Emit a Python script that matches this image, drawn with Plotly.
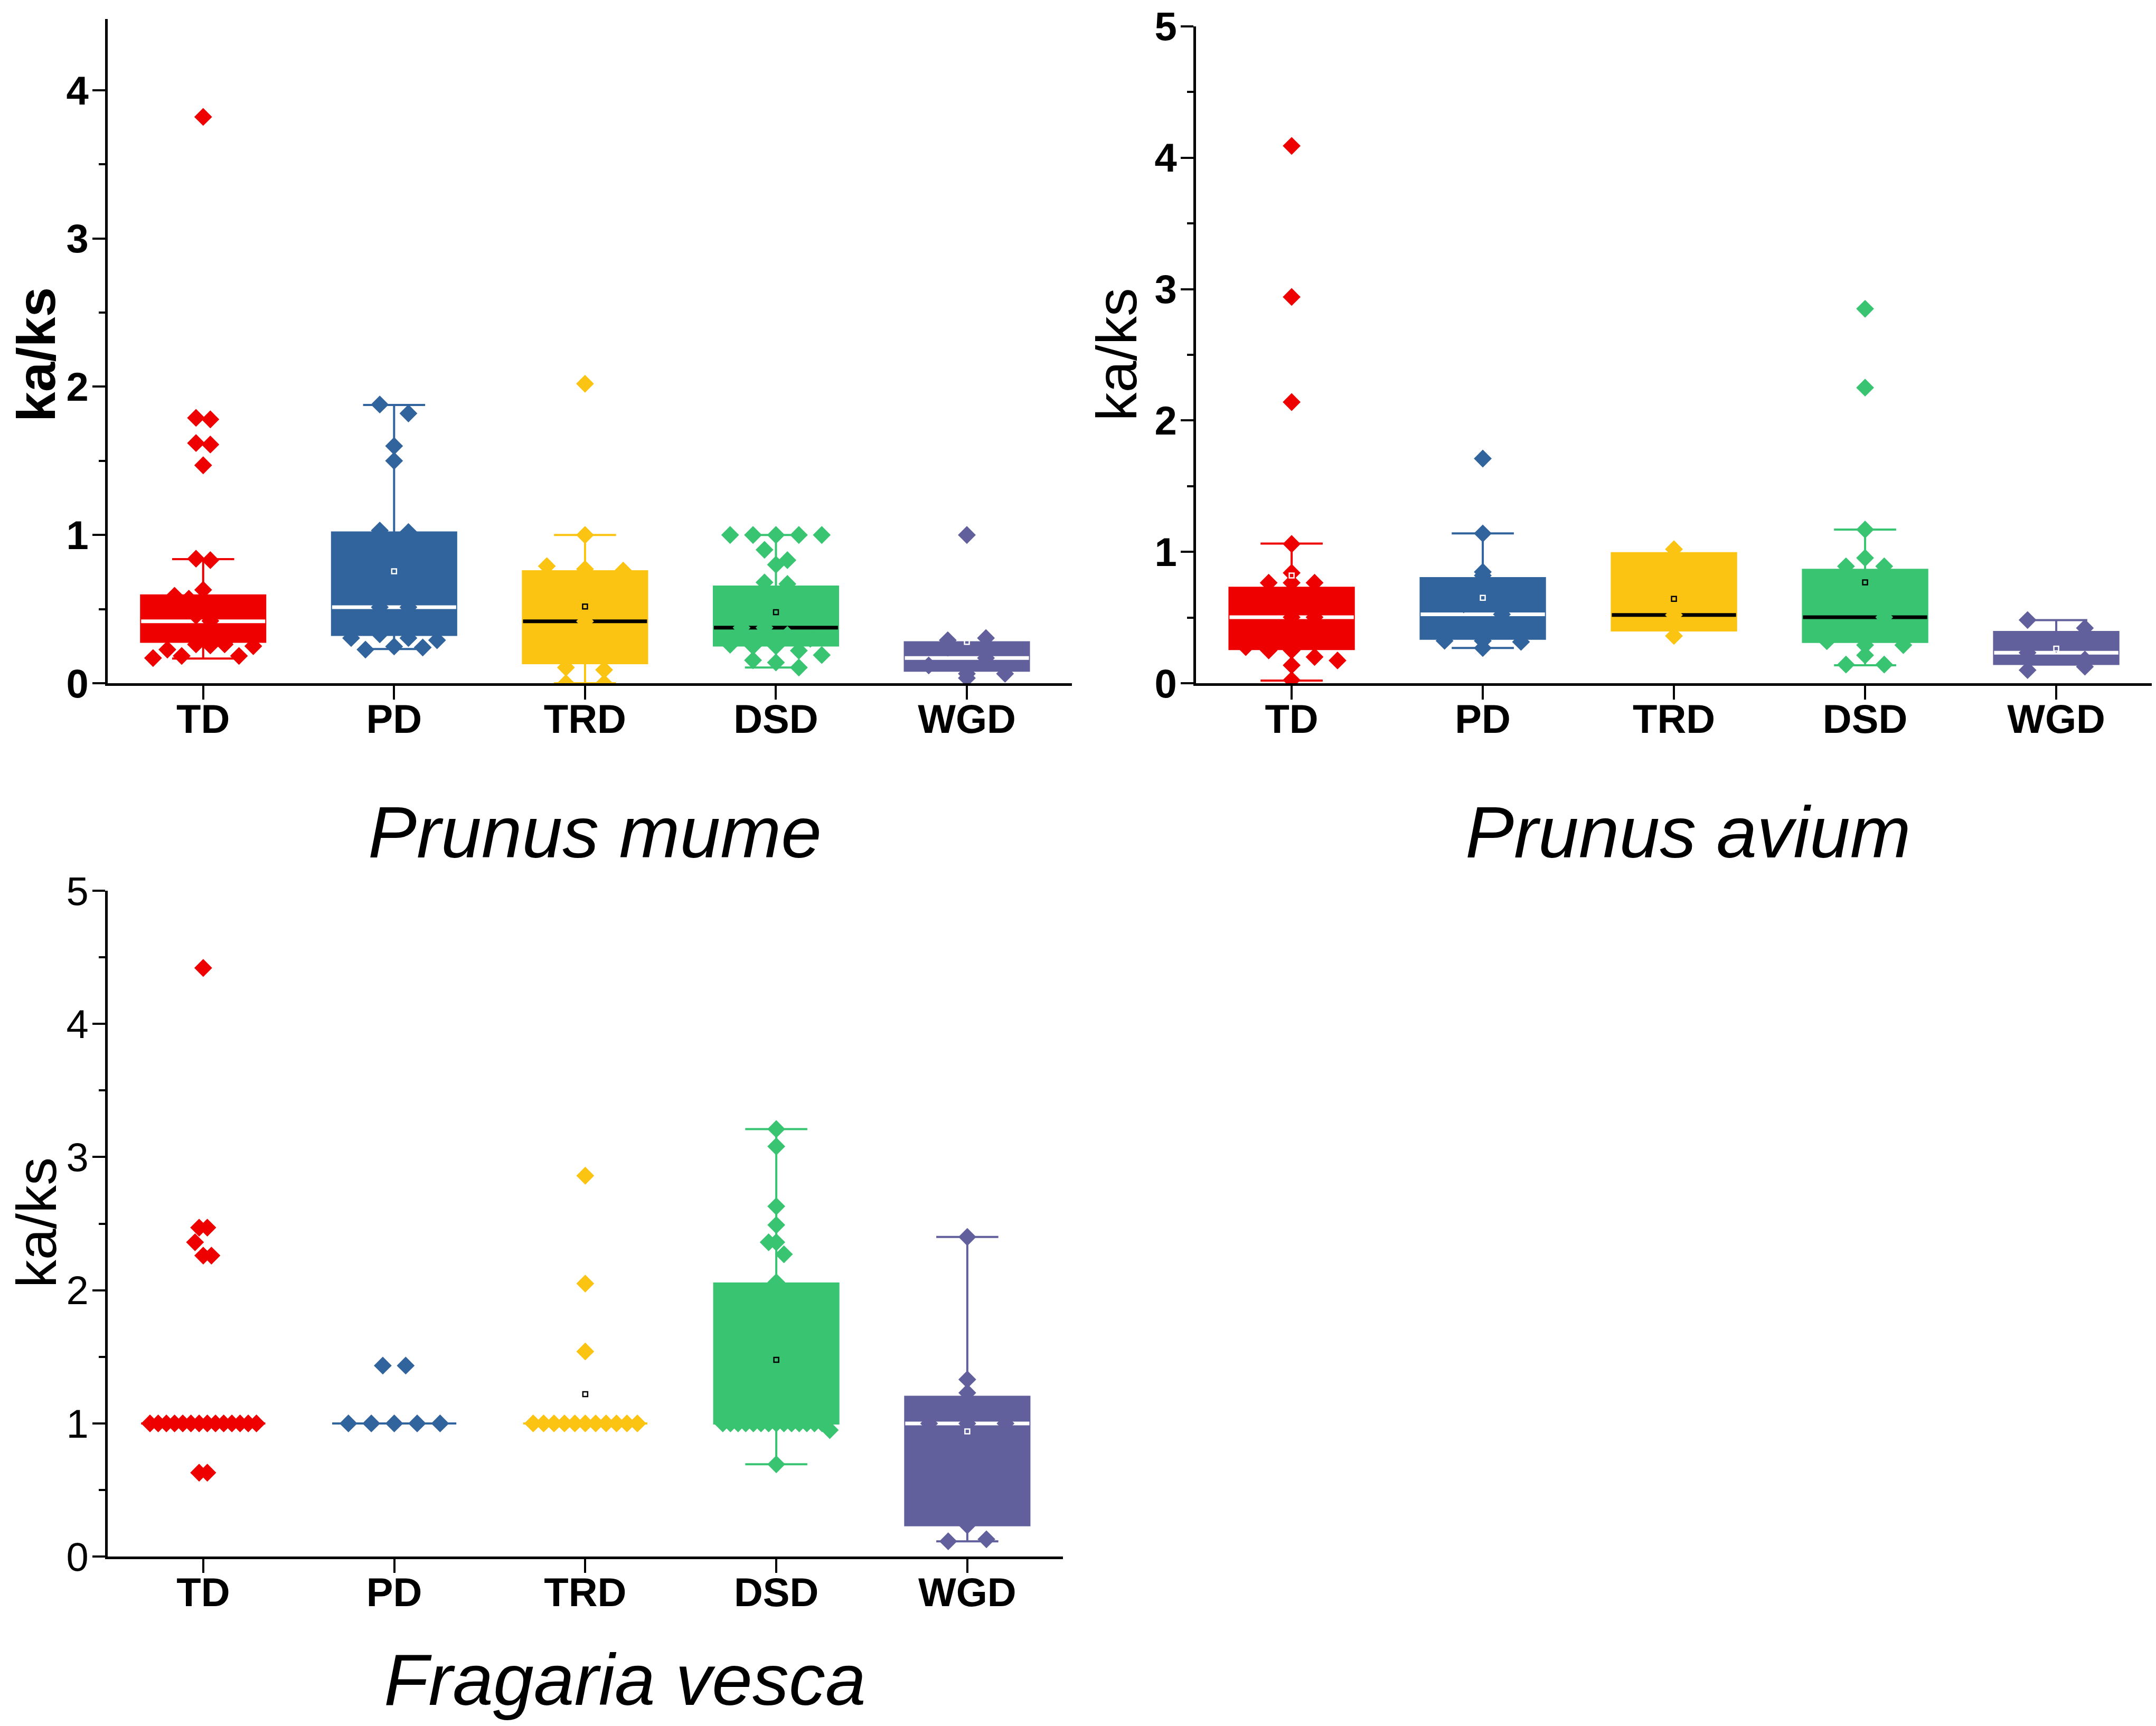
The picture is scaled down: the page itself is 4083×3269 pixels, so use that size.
import plotly.graph_objects as go

categories = ["TD", "PD", "TRD", "DSD", "WGD"]
box_colors = ["#EE0000", "#31639C", "#FBC412", "#39C471", "#62609C"]

# Prunus mume: ka/ks values per duplication type
mume_td = [3.82, 1.79, 1.78, 1.62, 1.61, 1.47, 0.84, 0.83, 0.63, 0.59, 0.57, 0.55,
           0.52, 0.50, 0.456, 0.42, 0.34, 0.32, 0.30, 0.276,
           0.17, 0.227, 0.184, 0.262, 0.255, 0.262, 0.184, 0.25]
mume_pd = [1.88, 1.82, 1.60, 1.50, 1.03, 1.02, 0.92, 0.80, 0.66, 0.513, 0.513,
           0.40, 0.305, 0.33, 0.305, 0.29, 0.227, 0.248, 0.241]
mume_trd = [2.02, 1.00, 0.79, 0.77, 0.76, 0.65, 0.55, 0.418, 0.30, 0.22,
            0.106, 0.09, 0.0, 0.0]
mume_dsd = [1.0, 1.0, 1.0, 1.0, 1.0, 0.90, 0.83, 0.80, 0.68, 0.67, 0.55, 0.47,
            0.375, 0.375, 0.326, 0.30, 0.26, 0.25, 0.25, 0.22, 0.19, 0.155, 0.14, 0.106]
mume_wgd = [1.0, 0.29, 0.305, 0.24, 0.17, 0.12, 0.064, 0.035, 0.064]
mume_q1 = [0.28, 0.326, 0.135, 0.255, 0.085]
mume_median = [0.418, 0.513, 0.418, 0.375, 0.17]
mume_q3 = [0.592, 1.017, 0.755, 0.652, 0.276]
mume_low = [0.167, 0.231, 0.0, 0.106, 0.085]
mume_high = [0.837, 1.877, 1.0, 1.0, 0.276]
mume_mean = [None, 0.755, 0.517, 0.479, 0.279]

# Prunus avium
avium_td = [4.09, 2.94, 2.14, 1.06, 0.84, 0.765, 0.765, 0.765, 0.68, 0.60, 0.502,
            0.502, 0.40, 0.33, 0.275, 0.25, 0.25, 0.20, 0.137, 0.173, 0.024]
avium_pd = [1.71, 1.14, 0.847, 0.82, 0.70, 0.60, 0.525, 0.42, 0.323, 0.323, 0.268, 0.315]
avium_trd = [1.02, 0.75, 0.52, 0.36]
avium_dsd = [2.85, 2.25, 1.17, 0.954, 0.89, 0.89, 0.72, 0.60, 0.502, 0.40, 0.32,
             0.29, 0.29, 0.213, 0.142, 0.142]
avium_wgd = [0.481, 0.42, 0.30, 0.232, 0.18, 0.10, 0.126]
avium_q1 = [0.26, 0.339, 0.402, 0.315, 0.147]
avium_median = [0.502, 0.525, 0.52, 0.502, 0.232]
avium_q3 = [0.726, 0.80, 0.99, 0.863, 0.39]
avium_low = [0.02, 0.268, 0.402, 0.137, 0.142]
avium_high = [1.063, 1.14, 0.99, 1.17, 0.48]
avium_mean = [0.82, 0.65, 0.642, 0.768, 0.263]

# Fragaria vesca
vesca_td = [4.42, 2.47, 2.47, 2.36, 2.26, 2.26,
            1.0, 1.0, 1.0, 1.0, 1.0, 1.0, 1.0, 1.0, 1.0, 1.0, 1.0, 1.0, 1.0, 1.0,
            0.63, 0.63]
vesca_pd = [1.434, 1.434, 1.0, 1.0, 1.0, 1.0, 1.0]
vesca_trd = [2.86, 2.05, 1.54, 1.0, 1.0, 1.0, 1.0, 1.0, 1.0, 1.0, 1.0, 1.0, 1.0, 1.0]
vesca_dsd = [3.21, 3.08, 2.63, 2.49, 2.36, 2.36, 2.27, 2.06,
             1.0, 1.0, 1.0, 1.0, 1.0, 1.0, 1.0, 1.0, 1.0, 1.0, 1.0, 1.0, 1.0, 1.0,
             0.95, 0.693]
vesca_wgd = [2.40, 1.33, 1.23, 1.0, 1.0, 1.0, 0.8, 0.5, 0.235, 0.115, 0.13]
vesca_q1 = [1.0, 1.0, 1.0, 1.0, 0.235]
vesca_median = [1.0, 1.0, 1.0, 1.0, 1.0]
vesca_q3 = [1.0, 1.0, 1.0, 2.05, 1.20]
vesca_low = [1.0, 1.0, 1.0, 0.693, 0.115]
vesca_high = [1.0, 1.0, 1.0, 3.21, 2.40]
vesca_mean = [None, None, 1.22, 1.477, 0.94]

# colour of the median line / mean square drawn on each box (None = not drawn)
mume_median_color = ["white", "white", "black", "black", "white"]
avium_median_color = ["white", "white", "black", "black", "white"]
vesca_median_color = [None, None, None, None, "white"]
mume_mean_color = [None, "white", "black", "black", "white"]
avium_mean_color = ["white", "white", "black", "black", "white"]
vesca_mean_color = [None, None, "black", "black", "white"]

BOX_W = 0.65
SPREAD = 0.6
BIN = 0.11
SANS = "Liberation Sans, Arial"


def swarm_offsets(values, bin_size=BIN, width=SPREAD):
    # points sharing a value bin are laid side by side across the box
    keys = [round(v / bin_size) for v in values]
    counts = {}
    for k in keys:
        counts[k] = counts.get(k, 0) + 1
    n_max = max(counts.values())
    step = width / n_max if n_max > 1 else 0
    seen = {}
    offsets = []
    for k in keys:
        j = seen.get(k, 0)
        seen[k] = j + 1
        offsets.append((j - (counts[k] - 1) / 2) * step)
    return offsets


panels = [
    dict(groups=[mume_td, mume_pd, mume_trd, mume_dsd, mume_wgd],
         q1=mume_q1, median=mume_median, q3=mume_q3, low=mume_low, high=mume_high,
         mean=mume_mean, median_color=mume_median_color, mean_color=mume_mean_color,
         xa="x", ya="y"),
    dict(groups=[avium_td, avium_pd, avium_trd, avium_dsd, avium_wgd],
         q1=avium_q1, median=avium_median, q3=avium_q3, low=avium_low, high=avium_high,
         mean=avium_mean, median_color=avium_median_color, mean_color=avium_mean_color,
         xa="x2", ya="y2"),
    dict(groups=[vesca_td, vesca_pd, vesca_trd, vesca_dsd, vesca_wgd],
         q1=vesca_q1, median=vesca_median, q3=vesca_q3, low=vesca_low, high=vesca_high,
         mean=vesca_mean, median_color=vesca_median_color, mean_color=vesca_mean_color,
         xa="x3", ya="y3"),
]

fig = go.Figure()

for p in panels:
    # boxes
    for i, c in enumerate(box_colors):
        fig.add_trace(go.Box(
            x=[i], q1=[p["q1"][i]], median=[p["median"][i]], q3=[p["q3"][i]],
            lowerfence=[p["low"][i]], upperfence=[p["high"][i]],
            width=BOX_W, whiskerwidth=0.5, fillcolor=c,
            line=dict(color=c, width=4), boxpoints=False,
            xaxis=p["xa"], yaxis=p["ya"], hoverinfo="skip",
        ))
    # median lines
    for i in range(len(categories)):
        mc = p["median_color"][i]
        if mc is None:
            continue
        fig.add_trace(go.Scatter(
            x=[i - BOX_W / 2, i + BOX_W / 2], y=[p["median"][i]] * 2,
            mode="lines", line=dict(color=mc, width=7),
            xaxis=p["xa"], yaxis=p["ya"], hoverinfo="skip",
        ))
    # data points
    for i, (vals, c) in enumerate(zip(p["groups"], box_colors)):
        offs = swarm_offsets(vals)
        fig.add_trace(go.Scatter(
            x=[i + o for o in offs], y=vals, mode="markers",
            marker=dict(symbol="diamond", size=26, color=c, line_width=0),
            xaxis=p["xa"], yaxis=p["ya"],
        ))
    # means
    for i in range(len(categories)):
        mc = p["mean_color"][i]
        if mc is None or p["mean"][i] is None:
            continue
        fig.add_trace(go.Scatter(
            x=[i], y=[p["mean"][i]], mode="markers",
            marker=dict(symbol="square-open", size=9, color=mc, line=dict(width=2.5, color=mc)),
            xaxis=p["xa"], yaxis=p["ya"],
        ))


def xaxis_cfg(domain, rng, anchor):
    return dict(
        domain=domain, range=rng, anchor=anchor, automargin=False,
        tickvals=list(range(len(categories))), ticktext=categories,
        showline=True, linecolor="black", linewidth=5, showgrid=False, zeroline=False,
        ticks="outside", ticklen=26, tickwidth=4, tickcolor="black",
        tickfont=dict(family=SANS, size=76, color="black", weight="bold"),
        ticklabelstandoff=-28, ticklabeloverflow="allow",
    )


def yaxis_cfg(domain, rng, anchor, bold):
    return dict(
        domain=domain, range=rng, anchor=anchor, automargin=False,
        dtick=1, tick0=0,
        showline=True, linecolor="black", linewidth=5, showgrid=False, zeroline=False,
        ticks="outside", ticklen=24, tickwidth=4, tickcolor="black",
        minor=dict(dtick=0.5, ticks="outside", ticklen=12, tickwidth=4, tickcolor="black"),
        tickfont=dict(family=SANS, size=76, color="black",
                      weight="bold" if bold else "normal"),
        ticklabelstandoff=-8, ticklabeloverflow="allow",
    )


fig.update_layout(
    width=4083, height=3269,
    margin=dict(l=0, r=0, t=0, b=0),
    paper_bgcolor="white", plot_bgcolor="white",
    showlegend=False,
    xaxis=xaxis_cfg([0.048, 0.4952], [-0.5, 4.55], "y"),
    yaxis=yaxis_cfg([0.6066, 0.9914], [0, 4.48], "x", True),
    xaxis2=xaxis_cfg([0.5528, 0.9961], [-0.5, 4.5], "y2"),
    yaxis2=yaxis_cfg([0.6066, 0.9872], [0, 5], "x2", True),
    xaxis3=xaxis_cfg([0.048, 0.491], [-0.5, 4.5], "y3"),
    yaxis3=yaxis_cfg([0.1006, 0.4864], [0, 5], "x3", False),
)

# y-axis titles
y_titles = [(0.0148, 0.797, "bold", 102), (0.516, 0.797, "normal", 108),
            (0.0148, 0.294, "normal", 106)]
for tx, ty, w, s in y_titles:
    fig.add_annotation(text="ka/ks", x=tx, y=ty, xref="paper", yref="paper",
                       xanchor="center", yanchor="middle", textangle=-90,
                       showarrow=False,
                       font=dict(family=SANS, size=s, color="black", weight=w))

# species names
species = [("Prunus mume", 0.274, 0.5204), ("Prunus avium", 0.781, 0.5204),
           ("Fragaria vesca", 0.288, 0.0294)]
for name, sx, sy in species:
    fig.add_annotation(text=f"<i>{name}</i>", x=sx, y=sy, xref="paper", yref="paper",
                       xanchor="center", yanchor="middle", showarrow=False,
                       font=dict(family=SANS, size=138, color="black"))

fig.write_html("out.html")
